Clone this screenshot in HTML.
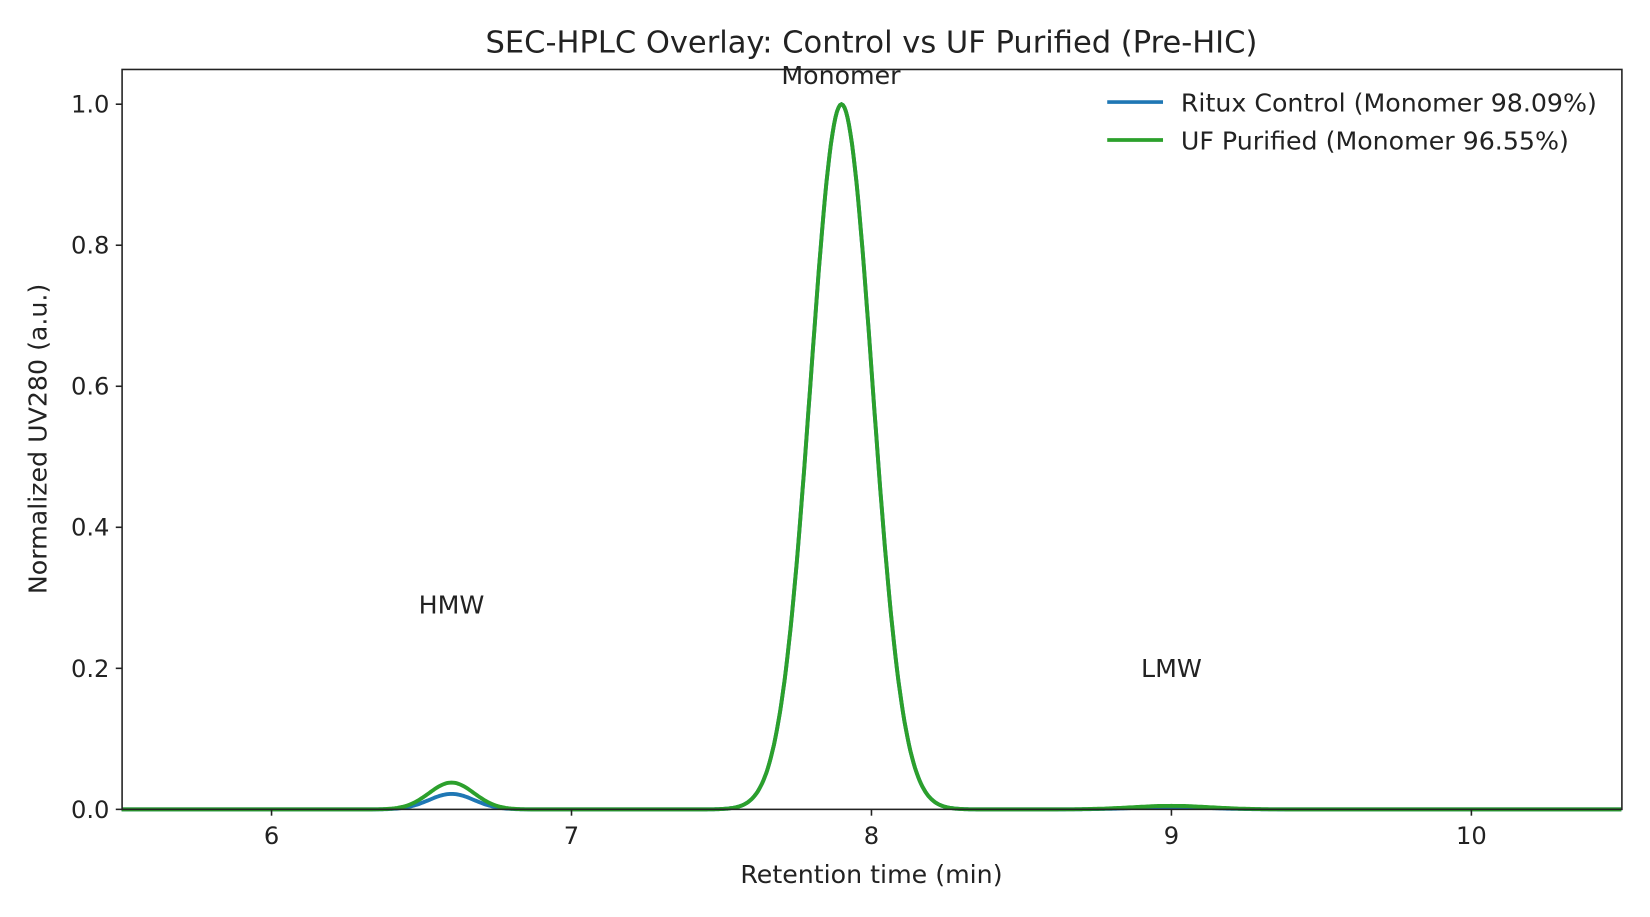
<!DOCTYPE html>
<html><head><meta charset="utf-8">
<style>
html,body{margin:0;padding:0;background:#fff;}
svg{display:block;font-family:"DejaVu Sans","Liberation Sans",sans-serif;}
</style></head>
<body>
<svg id="s" width="1650" height="917" viewBox="0 0 1650 917" xmlns="http://www.w3.org/2000/svg">
<rect width="1650" height="917" fill="#fff"/>
<g transform="scale(1.0525)">
<text x="828" y="50" font-size="29" text-anchor="middle" fill="#222">SEC-HPLC Overlay: Control vs UF Purified (Pre-HIC)</text>
<g id="curves"></g>
<rect x="116" y="66" width="1425" height="703" fill="none" stroke="#222" stroke-width="1.5"/>
<g stroke="#222" stroke-width="1.5">
<line x1="258" y1="769" x2="258" y2="775"/><line x1="543" y1="769" x2="543" y2="775"/>
<line x1="828" y1="769" x2="828" y2="775"/><line x1="1113" y1="769" x2="1113" y2="775"/>
<line x1="1398" y1="769" x2="1398" y2="775"/>
<line x1="110" y1="769" x2="116" y2="769"/><line x1="110" y1="635" x2="116" y2="635"/>
<line x1="110" y1="501" x2="116" y2="501"/><line x1="110" y1="367" x2="116" y2="367"/>
<line x1="110" y1="233" x2="116" y2="233"/><line x1="110" y1="99" x2="116" y2="99"/>
</g>
<g font-size="23" fill="#222" text-anchor="middle">
<text x="258" y="802">6</text><text x="543" y="802">7</text><text x="828" y="802">8</text>
<text x="1113" y="802">9</text><text x="1398" y="802">10</text>
</g>
<g font-size="23" fill="#222" text-anchor="end">
<text x="104" y="777">0.0</text><text x="104" y="643">0.2</text><text x="104" y="509">0.4</text>
<text x="104" y="375">0.6</text><text x="104" y="241">0.8</text><text x="104" y="107">1.0</text>
</g>
<text x="828" y="839" font-size="24" text-anchor="middle" fill="#222">Retention time (min)</text>
<text transform="translate(44,417) rotate(-90)" font-size="24" text-anchor="middle" fill="#222">Normalized UV280 (a.u.)</text>
<g font-size="24" fill="#222" text-anchor="middle">
<text x="799" y="80">Monomer</text>
<text x="429" y="583">HMW</text>
<text x="1113" y="643">LMW</text>
</g>
<line x1="1052" y1="97" x2="1105" y2="97" stroke="#1f77b4" stroke-width="3.5"/>
<line x1="1052" y1="133" x2="1105" y2="133" stroke="#2ca02c" stroke-width="3.5"/>
<g font-size="24" fill="#222">
<text x="1122" y="106">Ritux Control (Monomer 98.09%)</text>
<text x="1122" y="142">UF Purified (Monomer 96.55%)</text>
</g>
</g>
</svg>
<script>
function X(t){return 115.5+(t-5.5)*285;}
function Y(v){return 769-v*670;}
function g(t,m,s,a){return a*Math.exp(-0.5*((t-m)/s)**2);}
function path(h,l){var d="";for(var i=0;i<=1000;i++){var t=5.5+5*i/1000;
var v=g(t,7.9,0.103,1)+g(t,6.6,0.075,h)+g(t,9.0,0.13,l);
d+=(i?"L":"M")+X(t).toFixed(1)+" "+Y(v).toFixed(1);}return d;}
var c=document.getElementById("curves");
c.innerHTML='<path d="'+path(0.022,0.003)+'" fill="none" stroke="#1f77b4" stroke-width="3.7"/>'+
'<path d="'+path(0.038,0.005)+'" fill="none" stroke="#2ca02c" stroke-width="3.7"/>';
</script>
</body></html>
